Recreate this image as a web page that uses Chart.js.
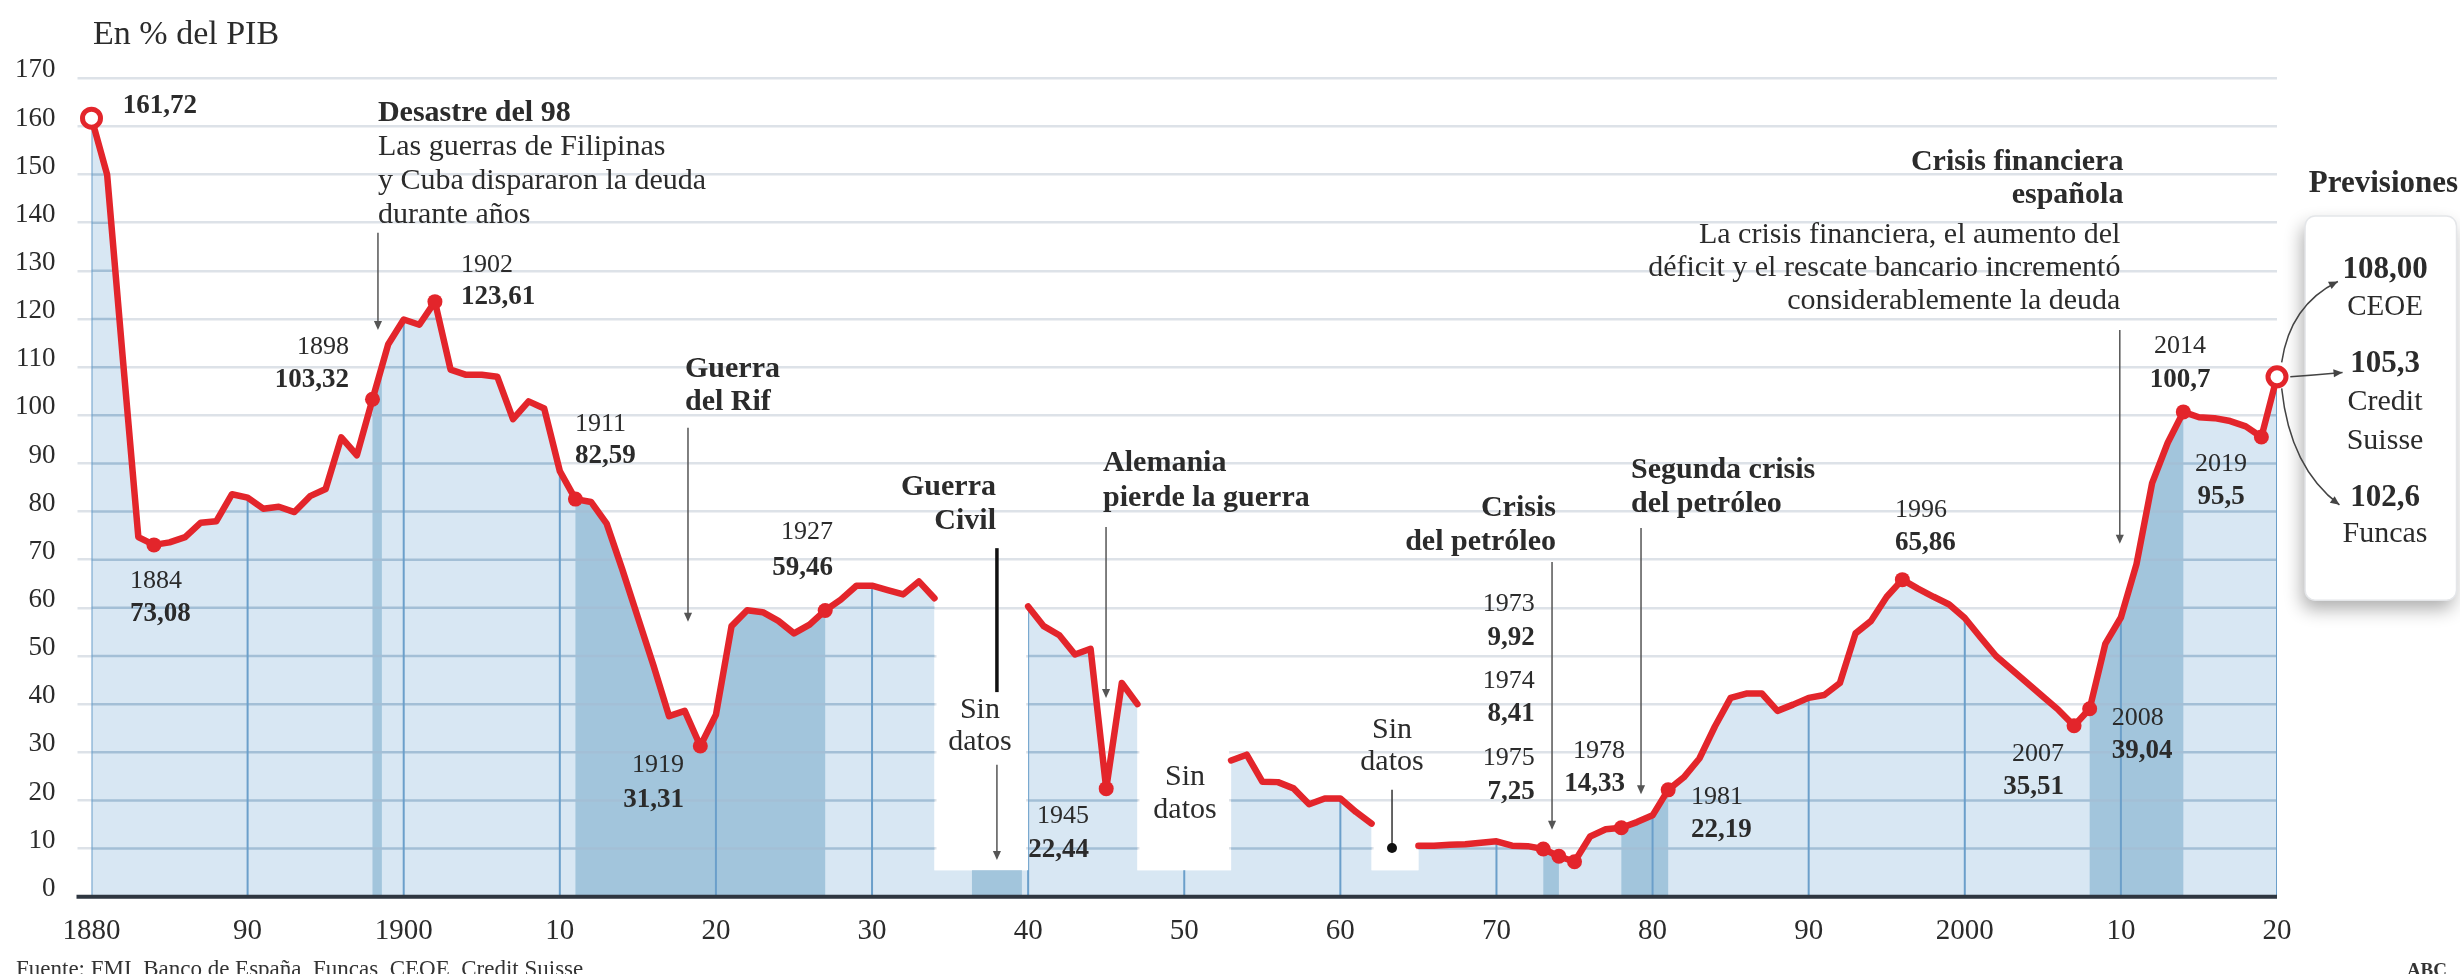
<!DOCTYPE html>
<html><head><meta charset="utf-8">
<script src="https://cdn.jsdelivr.net/npm/chart.js@4.4.0/dist/chart.umd.min.js"></script>
<style>html,body{margin:0;padding:0;background:#fff;}canvas{display:block;}</style>
</head><body>
<canvas id="c" width="2460" height="974"></canvas>
<script>
// ---------------- DATA ----------------
const years = [1880,1881,1882,1883,1884,1885,1886,1887,1888,1889,
1890,1891,1892,1893,1894,1895,1896,1897,1898,1899,
1900,1901,1902,1903,1904,1905,1906,1907,1908,1909,
1910,1911,1912,1913,1914,1915,1916,1917,1918,1919,
1920,1921,1922,1923,1924,1925,1926,1927,1928,1929,
1930,1931,1932,1933,1934,1935,1936,1937,1938,1939,
1940,1941,1942,1943,1944,1945,1946,1947,1948,1949,
1950,1951,1952,1953,1954,1955,1956,1957,1958,1959,
1960,1961,1962,1963,1964,1965,1966,1967,1968,1969,
1970,1971,1972,1973,1974,1975,1976,1977,1978,1979,
1980,1981,1982,1983,1984,1985,1986,1987,1988,1989,
1990,1991,1992,1993,1994,1995,1996,1997,1998,1999,
2000,2001,2002,2003,2004,2005,2006,2007,2008,2009,
2010,2011,2012,2013,2014,2015,2016,2017,2018,2019,
2020];
const debt = [161.72,150,112,74.7,73.08,73.6,74.7,77.7,78.0,83.6,
82.9,80.6,81.0,79.9,83.2,84.7,95.4,91.7,103.32,114.7,
119.9,118.8,123.61,109.5,108.4,108.4,108.0,99.2,102.9,101.4,
88.4,82.59,82.0,77.5,68,58,48,37.5,38.6,31.31,
37.8,56.2,59.5,59.1,57.3,54.7,56.5,59.46,61.7,64.6,
64.6,63.7,62.8,65.5,62.0,null,null,null,null,null,
60.3,56.2,54.3,50.3,51.5,22.44,44.4,40.0,null,null,
null,null,null,28.3,29.5,23.9,23.8,22.5,19.2,20.4,
20.4,17.6,15.2,null,null,10.6,10.6,10.8,10.9,11.2,
11.5,10.6,10.5,9.92,8.41,7.25,12.5,14.0,14.33,15.5,
16.9,22.19,24.8,28.7,35.4,41.3,42.2,42.2,38.6,39.9,
41.3,41.9,44.4,54.7,57.3,62.3,65.86,64.0,62.3,60.7,
57.9,53.9,50.0,47.2,44.4,41.6,38.8,35.51,39.04,52.5,
58.0,69.1,85.9,94.3,100.7,99.6,99.4,98.8,97.7,95.5,
108.0];
const markedYears = [1880,1884,1898,1902,1911,1919,1927,1945,1973,1974,1975,1978,1981,1996,2007,2008,2014,2019,2020];
const hollowYears = [1880,2020];
const forecastLabels = ['108,00','105,3','102,6'];
const forecastSources = [['CEOE'],['Credit','Suisse'],['Funcas']];
const bandRanges = [[1898,1898.6],[1911,1927],[1936.4,1939.6],[1973,1974],[1978,1981],[2008,2014]];
const gapRanges = [[1934,1940,58],[1947,1953,38],[1962,1965,14]];
const gapFloor = 5.5;

// ---------------- STYLE ----------------
const FONT = "'Liberation Serif','Times New Roman',serif";
const RED = '#e3252b', FILL = '#d8e7f3', BAND = '#a2c5dc', INNER = '#a3bfd6',
      DECADE = '#6b9fca', GRID = '#dde2e8', TEXT = '#2b2b2b';

const pointLabels = [
 {year:1880,x:1882.0,y:164.25,align:'left',lh:33},
 {year:1884,x:1882.47,y:65.6,align:'left',lh:33},
 {year:1898,x:1896.49,y:114.2,align:'right',lh:33},
 {year:1902,x:1903.67,y:131.2,align:'left',lh:32},
 {year:1911,x:1910.97,y:98.2,align:'left',lh:32},
 {year:1919,x:1917.95,y:27.4,align:'right',lh:35},
 {year:1927,x:1927.5,y:75.8,align:'right',lh:36},
 {year:1945,x:1943.9,y:16.8,align:'right',lh:34},
 {year:1973,x:1972.45,y:60.8,align:'right',lh:34},
 {year:1974,x:1972.45,y:44.8,align:'right',lh:33},
 {year:1975,x:1972.45,y:28.8,align:'right',lh:34},
 {year:1978,x:1978.23,y:30.3,align:'right',lh:33},
 {year:1981,x:1982.46,y:20.7,align:'left',lh:33},
 {year:1996,x:1995.53,y:80.3,align:'left',lh:33},
 {year:2007,x:2006.35,y:29.6,align:'right',lh:33},
 {year:2008,x:2009.42,y:37.1,align:'left',lh:33},
 {year:2014,x:2013.79,y:114.4,align:'center',lh:34},
 {year:2019,x:2016.42,y:89.9,align:'center',lh:33}
];
const notes = [
 {x:1880.1,y:179.0,align:'left',size:34,lh:34,lines:[['En % del PIB',0]]},
 {x:1898.35,y:162.8,align:'left',size:30,lh:34,lines:[['Desastre del 98',1],['Las guerras de Filipinas',0],['y Cuba dispararon la deuda',0],['durante años',0]]},
 {x:1918.02,y:109.6,align:'left',size:30,lh:33,lines:[['Guerra',1],['del Rif',1]]},
 {x:1937.94,y:85.1,align:'right',size:30,lh:34,lines:[['Guerra',1],['Civil',1]]},
 {x:1936.91,y:38.8,align:'center',size:30,lh:32,lines:[['Sin',0],['datos',0]]},
 {x:1944.80,y:90.1,align:'left',size:30,lh:35,lines:[['Alemania',1],['pierde la guerra',1]]},
 {x:1950.05,y:24.9,align:'center',size:30,lh:33,lines:[['Sin',0],['datos',0]]},
 {x:1963.31,y:34.6,align:'center',size:30,lh:32,lines:[['Sin',0],['datos',0]]},
 {x:1973.81,y:80.7,align:'right',size:30,lh:34,lines:[['Crisis',1],['del petróleo',1]]},
 {x:1978.62,y:88.6,align:'left',size:30,lh:34,lines:[['Segunda crisis',1],['del petróleo',1]]},
 {x:2010.16,y:152.6,align:'right',size:30,lh:33,lines:[['Crisis financiera',1],['española',1]]},
 {x:2009.97,y:137.5,align:'right',size:30,lh:33,lines:[['La crisis financiera, el aumento del',0],['déficit y el rescate bancario incrementó',0],['considerablemente la deuda',0]]},
 {x:2031.6,y:148.0,align:'right',size:31,lh:34,lines:[['Previsiones',1]]}
];
const arrows = [
 {x:1898.35,y1:137.9,y2:117.7},{x:1918.21,y1:97.4,y2:57.1},{x:1938.0,y1:27.4,y2:7.6},
 {x:1944.99,y1:76.8,y2:41.3},{x:1973.56,y1:69.5,y2:13.9},{x:1979.26,y1:76.6,y2:21.3},
 {x:2009.93,y1:117.7,y2:73.3}
];

// ---------------- CHART ----------------
const idxOf = yr => years.indexOf(yr);
const fmt = v => String(v).replace('.', ',');
const points = years.map((yr,i)=>({x:yr,y:debt[i]}));
const isMarked = i => markedYears.includes(years[i]);
const isHollow = i => hollowYears.includes(years[i]);
const LINE = 0, AREA = 1;

function textLines(ctx, px, py, align, lines, lh, size){
  ctx.textAlign = align; ctx.textBaseline = 'middle'; ctx.fillStyle = TEXT;
  lines.forEach((ln,k)=>{
    const s = ln[2] || size;
    ctx.font = (ln[1] ? 'bold ' : '') + s + 'px ' + FONT;
    ctx.fillText(ln[0], px, py + k*lh);
  });
}
function head(ctx, x, y, ang, L){
  ctx.beginPath();
  ctx.moveTo(x, y);
  ctx.lineTo(x - L*Math.cos(ang) + L*0.45*Math.sin(ang), y - L*Math.sin(ang) - L*0.45*Math.cos(ang));
  ctx.lineTo(x - L*Math.cos(ang) - L*0.45*Math.sin(ang), y - L*Math.sin(ang) + L*0.45*Math.cos(ang));
  ctx.closePath(); ctx.fill();
}

const deco = {
  id:'deco',
  beforeDatasetsDraw(chart){
    const {ctx, scales:{x,y}} = chart;
    ctx.save(); ctx.fillStyle = '#fff';
    gapRanges.forEach(([a,b,top])=>{
      const x0=x.getPixelForValue(a), x1=x.getPixelForValue(b);
      const y0=y.getPixelForValue(top), y1=y.getPixelForValue(gapFloor);
      ctx.fillRect(x0+2, y0, x1-x0-4, y1-y0);
    });
    ctx.restore();
  },
  afterDatasetDraw(chart,args){
    const {ctx, chartArea, scales:{x,y}} = chart;
    if(args.index!==AREA) return;
    const meta = chart.getDatasetMeta(AREA);
    const yb = y.getPixelForValue(0);
    const xl = x.getPixelForValue(years[0]), xr = x.getPixelForValue(years[years.length-1]);
    const yf = y.getPixelForValue(gapFloor);
    ctx.save();
    ctx.beginPath();
    let seg=[];
    const flush=()=>{ if(seg.length){ ctx.moveTo(seg[0].x,yb); seg.forEach(p=>ctx.lineTo(p.x,p.y)); ctx.lineTo(seg[seg.length-1].x,yb); ctx.closePath(); } seg=[]; };
    meta.data.forEach((pt,i)=>{ if(debt[i]===null) flush(); else seg.push(pt); });
    flush();
    ctx.rect(xl, yf, xr-xl, yb-yf);
    ctx.clip();
    ctx.fillStyle=FILL; ctx.fillRect(xl, yf, xr-xl, yb-yf);
    ctx.fillStyle=BAND;
    bandRanges.forEach(([a,b])=>{ const x0=x.getPixelForValue(a), x1=x.getPixelForValue(b); ctx.fillRect(x0, chartArea.top, x1-x0, yb-chartArea.top); });
    ctx.strokeStyle=INNER; ctx.lineWidth=2.5;
    y.ticks.forEach(t=>{ const py=y.getPixelForValue(t.value); ctx.beginPath(); ctx.moveTo(xl,py); ctx.lineTo(xr,py); ctx.stroke(); });
    ctx.strokeStyle=DECADE; ctx.lineWidth=2;
    x.ticks.forEach(t=>{ const px=x.getPixelForValue(t.value); ctx.beginPath(); ctx.moveTo(px,chartArea.top); ctx.lineTo(px,yb); ctx.stroke(); });
    ctx.restore();
    const lm = chart.getDatasetMeta(LINE);
    ctx.save();
    ctx.shadowColor='rgba(20,35,55,0.75)'; ctx.shadowBlur=16; ctx.shadowOffsetY=14; ctx.shadowOffsetX=0;
    ctx.strokeStyle='rgba(20,35,55,0.01)'; ctx.lineWidth=7; ctx.lineJoin='round'; ctx.lineCap='round';
    ctx.translate(0,-4000); ctx.shadowOffsetY=4014;
    ctx.beginPath();
    let started=false;
    lm.data.forEach((pt,i)=>{ if(debt[i]===null){ started=false; return; } if(!started){ctx.moveTo(pt.x,pt.y+4000*0);started=true;} else ctx.lineTo(pt.x,pt.y); });
    ctx.stroke();
    ctx.restore();
  },
  afterDatasetsDraw(chart){
    const {ctx, chartArea, scales:{x,y}} = chart;
    const X=v=>x.getPixelForValue(v), Y=v=>y.getPixelForValue(v);
    ctx.save();
    // baseline
    ctx.strokeStyle='#2e3640'; ctx.lineWidth=4;
    ctx.beginPath(); ctx.moveTo(chartArea.left-15, Y(0)); ctx.lineTo(chartArea.right, Y(0)); ctx.stroke();
    // thin arrows
    ctx.strokeStyle='#555'; ctx.fillStyle='#555'; ctx.lineWidth=1.5;
    arrows.forEach(a=>{ const px=X(a.x); ctx.beginPath(); ctx.moveTo(px,Y(a.y1)); ctx.lineTo(px,Y(a.y2)-2); ctx.stroke(); head(ctx,px,Y(a.y2),Math.PI/2,9); });
    // Guerra civil black bar
    ctx.strokeStyle='#111'; ctx.lineWidth=3.5;
    ctx.beginPath(); ctx.moveTo(X(1938.0),Y(72.4)); ctx.lineTo(X(1938.0),Y(42.5)); ctx.stroke();
    // gap3 pointer
    ctx.lineWidth=1.5; ctx.strokeStyle='#333'; ctx.fillStyle='#111';
    ctx.beginPath(); ctx.moveTo(X(1963.31),Y(22.2)); ctx.lineTo(X(1963.31),Y(10.1)); ctx.stroke();
    ctx.beginPath(); ctx.arc(X(1963.31),Y(10.1),5,0,Math.PI*2); ctx.fill();
    // forecast box
    const bx0=X(2021.8), bx1=X(2031.5), by0=Y(141.4), by1=Y(61.6);
    ctx.save();
    ctx.shadowColor='rgba(0,0,0,0.32)'; ctx.shadowBlur=18; ctx.shadowOffsetX=-3; ctx.shadowOffsetY=9;
    ctx.fillStyle='#fff'; ctx.beginPath(); ctx.roundRect(bx0,by0,bx1-bx0,by1-by0,10); ctx.fill();
    ctx.restore();
    ctx.strokeStyle='#e4e6e9'; ctx.lineWidth=1.5; ctx.beginPath(); ctx.roundRect(bx0,by0,bx1-bx0,by1-by0,10); ctx.stroke();
    // forecast texts
    const cx = X(2026.92);
    textLines(ctx,cx,Y(130.2),'center',[[forecastLabels[0],1,31],[forecastSources[0][0],0,29]],37,30);
    textLines(ctx,cx,Y(110.7),'center',[[forecastLabels[1],1,31],[forecastSources[1][0],0,30],[forecastSources[1][1],0,30]],38.5,30);
    textLines(ctx,cx,Y(82.8),'center',[[forecastLabels[2],1,31],[forecastSources[2][0],0,30]],36,30);
    // forecast curved arrows
    ctx.strokeStyle='#444'; ctx.fillStyle='#444'; ctx.lineWidth=1.5;
    const curves=[
      {f:[2020.3,111.0],c:[2020.83,122.9],t:[2023.9,127.8]},
      {f:[2020.85,108.0],c:[2022.5,108.4],t:[2024.2,108.9]},
      {f:[2020.3,105.6],c:[2020.83,89.1],t:[2024.0,81.4]}
    ];
    curves.forEach(cv=>{
      const fx=X(cv.f[0]),fy=Y(cv.f[1]),qx=X(cv.c[0]),qy=Y(cv.c[1]),tx=X(cv.t[0]),ty=Y(cv.t[1]);
      ctx.beginPath(); ctx.moveTo(fx,fy); ctx.quadraticCurveTo(qx,qy,tx,ty); ctx.stroke();
      head(ctx,tx,ty,Math.atan2(ty-qy,tx-qx),9);
    });
    // notes
    notes.forEach(n=>textLines(ctx,X(n.x),Y(n.y),n.align,n.lines,n.lh,n.size));
    // point labels
    pointLabels.forEach(p=>{
      const v = debt[idxOf(p.year)];
      const lines = p.year===1880 ? [[fmt(v),1,27]] : [[String(p.year),0,26],[fmt(v),1,27]];
      textLines(ctx,X(p.x),Y(p.y),p.align,lines,p.lh,26);
    });
    // footer
    ctx.textBaseline='alphabetic'; ctx.textAlign='left'; ctx.fillStyle='#333';
    ctx.font='23px '+FONT; ctx.fillText('Fuente: FMI, Banco de España, Funcas, CEOE, Credit Suisse', 16, 976);
    ctx.textAlign='right'; ctx.font='bold 19px '+FONT; ctx.fillText('ABC', 2447, 976);
    ctx.restore();
  }
};

new Chart(document.getElementById('c'), {
  type:'line',
  data:{datasets:[
    {label:'Deuda pública (% PIB)', data:points, order:0, borderColor:RED, borderWidth:6.5, tension:0,
     borderJoinStyle:'round', borderCapStyle:'round', fill:false, clip:false, spanGaps:false,
     pointRadius:c=>isMarked(c.dataIndex)?(isHollow(c.dataIndex)?9:7.5):0,
     pointBackgroundColor:c=>isHollow(c.dataIndex)?'#fff':RED,
     pointBorderColor:RED,
     pointBorderWidth:c=>isHollow(c.dataIndex)?5:0,
     pointHoverRadius:0},
    {label:'Área', data:points, order:1, borderWidth:0, borderColor:'rgba(0,0,0,0)', pointRadius:0,
     fill:'origin', backgroundColor:FILL, tension:0, spanGaps:false}
  ]},
  options:{
    responsive:false, animation:false, devicePixelRatio:1, events:[],
    layout:{padding:{left:0,right:183,top:78.3,bottom:0}},
    plugins:{legend:{display:false},tooltip:{enabled:false}},
    scales:{
      x:{type:'linear',min:1880,max:2020,
         afterFit:s=>{s.height=77.3;},
         grid:{display:false,drawTicks:false}, border:{display:false},
         ticks:{stepSize:10,autoSkip:false,maxRotation:0,padding:17,color:TEXT,font:{family:FONT,size:29},
           callback:v=>(v===1880||v%100===0)?String(v):String(v%100).padStart(2,'0')}},
      y:{min:0,max:170,
         afterFit:s=>{s.width=91.5;},
         grid:{color:GRID,lineWidth:2.5,tickLength:14,drawTicks:true},
         border:{display:false},
         ticks:{stepSize:10,padding:22,labelOffset:-8,color:TEXT,font:{family:FONT,size:27}}}
    }
  },
  plugins:[deco]
});
</script>
</body></html>
